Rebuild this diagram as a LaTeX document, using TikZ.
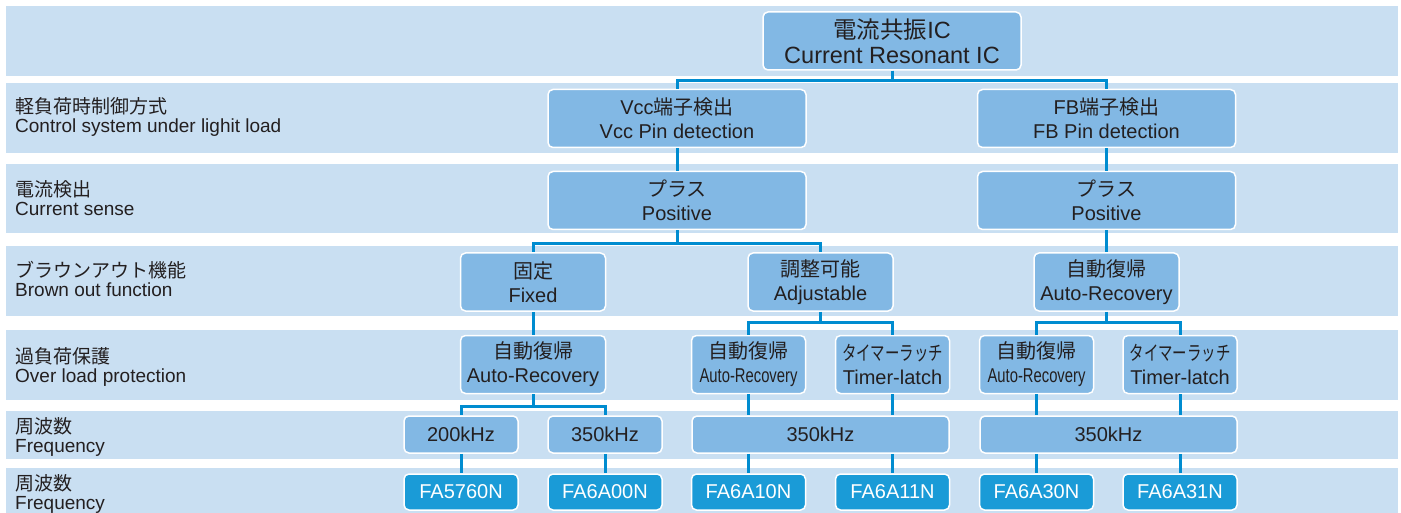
\documentclass[tikz,border=0pt]{standalone}
\usepackage{fontspec}
\setmainfont{Liberation Sans}
\newfontfamily\jp{Noto Sans CJK JP}
\newfontfamily\jpnarrow{Noto Sans CJK JP}[FakeStretch=0.72]
\newfontfamily\narrowlatin{Liberation Sans}[FakeStretch=0.74]
\usepackage{tikz}

\definecolor{bandblue}{RGB}{201,223,242}
\definecolor{boxblue}{RGB}{130,184,228}
\definecolor{partblue}{RGB}{26,155,215}
\definecolor{linkblue}{RGB}{0,140,208}
\definecolor{ink}{RGB}{35,31,32}

\newcommand\boxsize{\fontsize{20}{24}\selectfont}
\newcommand\topsize{\fontsize{23.5}{25}\selectfont}
\newcommand\lblsize{\fontsize{19}{19.5}\selectfont}

\tikzset{
  box/.style={draw=white, line width=1.5pt, fill=boxblue, rounded corners=5pt,
    align=center, inner sep=0pt, text=ink, font=\boxsize},
  bigbox/.style={box, minimum width=258pt, minimum height=58pt},
  midbox/.style={box, minimum width=145pt, minimum height=58pt},
  smallbox/.style={box, minimum width=114pt, minimum height=58pt},
  freqbox/.style={box, minimum height=37pt},
  partbox/.style={box, fill=partblue, text=white, minimum width=114pt, minimum height=36pt},
  lbl/.style={anchor=west, align=left, inner sep=0pt, text=ink, font=\lblsize},
  conn/.style={draw=linkblue, line width=3pt}
}

\begin{document}
\begin{tikzpicture}[x=1pt,y=-1pt]
  \useasboundingbox (0,0) rectangle (1401,513);
  % row bands
  \foreach \ytop/\ybot in {6/76, 83/153, 164/233, 246/316, 330/400, 411/459, 468/530}
    \fill[bandblue] (6,\ytop) rectangle (1398,\ybot);

  % row labels
  \node[lbl] (lblload) at (15,117) {{\jp 軽負荷時制御方式}\\Control system under lighit load};
  \node[lbl] (lblsense) at (15,198) {{\jp 電流検出}\\Current sense};
  \node[lbl] (lblbrown) at (15,279) {{\jp ブラウンアウト機能}\\Brown out function};
  \node[lbl] (lblover) at (15,367) {{\jp 過負荷保護}\\Over load protection};
  \node[lbl] (lblfreq) at (15,437) {{\jp 周波数}\\Frequency};
  \node[lbl] (lblpart) at (15,494) {{\jp 周波数}\\Frequency};

  % tree
  \node[bigbox, font=\topsize] (resic) at (892,41) {{\jp 電流共振}IC\\Current Resonant IC};

  \node[bigbox] (vcc) at (677,118.5) {Vcc{\jp 端子検出}\\Vcc Pin detection};
  \node[bigbox] (fb) at (1106.5,118.5) {FB{\jp 端子検出}\\FB Pin detection};

  \node[bigbox] (vccpos) at (677,200.5) {{\jp プラス}\\Positive};
  \node[bigbox] (fbpos) at (1106.5,200.5) {{\jp プラス}\\Positive};

  \node[midbox] (fixed) at (533,282) {{\jp 固定}\\Fixed};
  \node[midbox] (adj) at (820.5,282) {{\jp 調整可能}\\Adjustable};
  \node[midbox] (fbauto) at (1106.5,282) {{\jp 自動復帰}\\Auto-Recovery};

  \node[midbox] (fixauto) at (533,364.5) {{\jp 自動復帰}\\Auto-Recovery};
  \node[smallbox] (adjauto) at (748.5,364.5) {{\jp 自動復帰}\\{\narrowlatin Auto-Recovery}};
  \node[smallbox] (adjlatch) at (892.5,364.5) {{\jpnarrow タイマーラッチ}\\Timer-latch};
  \node[smallbox] (fbauto2) at (1036.5,364.5) {{\jp 自動復帰}\\{\narrowlatin Auto-Recovery}};
  \node[smallbox] (fblatch) at (1180,364.5) {{\jpnarrow タイマーラッチ}\\Timer-latch};

  \node[freqbox, minimum width=114pt] (f200) at (461,434.5) {200kHz};
  \node[freqbox, minimum width=114pt] (f350) at (605,434.5) {350kHz};
  \node[freqbox, minimum width=257pt] (adjfreq) at (820.5,434.5) {350kHz};
  \node[freqbox, minimum width=257pt] (fbfreq) at (1108.5,434.5) {350kHz};

  \node[partbox] (p5760) at (461,492) {FA5760N};
  \node[partbox] (p6a00) at (605,492) {FA6A00N};
  \node[partbox] (p6a10) at (748.5,492) {FA6A10N};
  \node[partbox] (p6a11) at (892.5,492) {FA6A11N};
  \node[partbox] (p6a30) at (1036.5,492) {FA6A30N};
  \node[partbox] (p6a31) at (1180,492) {FA6A31N};

  % connectors
  \draw[conn] (resic.south) -- ++(0,10) -| (vcc.north);
  \draw[conn] (resic.south) -- ++(0,10) -| (fb.north);
  \draw[conn] (vcc) -- (vccpos);
  \draw[conn] (fb) -- (fbpos);
  \draw[conn] (vccpos.south) -- ++(0,13) -| (fixed.north);
  \draw[conn] (vccpos.south) -- ++(0,13) -| (adj.north);
  \draw[conn] (fbpos) -- (fbauto);
  \draw[conn] (fixed) -- (fixauto);
  \draw[conn] (adj.south) -- ++(0,11) -| (adjauto.north);
  \draw[conn] (adj.south) -- ++(0,11) -| (adjlatch.north);
  \draw[conn] (fbauto.south) -- ++(0,11) -| (fbauto2.north);
  \draw[conn] (fbauto.south) -- ++(0,11) -| (fblatch.north);
  \draw[conn] (fixauto.south) -- ++(0,12) -| (f200.north);
  \draw[conn] (fixauto.south) -- ++(0,12) -| (f350.north);
  \draw[conn] (adjauto.south) -- (adjauto.south |- adjfreq.north);
  \draw[conn] (adjlatch.south) -- (adjlatch.south |- adjfreq.north);
  \draw[conn] (fbauto2.south) -- (fbauto2.south |- fbfreq.north);
  \draw[conn] (fblatch.south) -- (fblatch.south |- fbfreq.north);
  \draw[conn] (f200) -- (p5760);
  \draw[conn] (f350) -- (p6a00);
  \draw[conn] (adjfreq.south -| p6a10) -- (p6a10.north);
  \draw[conn] (adjfreq.south -| p6a11) -- (p6a11.north);
  \draw[conn] (fbfreq.south -| p6a30) -- (p6a30.north);
  \draw[conn] (fbfreq.south -| p6a31) -- (p6a31.north);
\end{tikzpicture}
\end{document}
